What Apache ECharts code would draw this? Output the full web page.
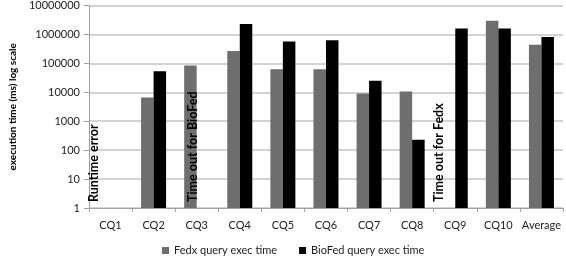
<!DOCTYPE html>
<html>
<head>
<meta charset="utf-8">
<script src="https://cdn.jsdelivr.net/npm/echarts@6/dist/echarts.min.js"></script>
<style>
  html, body { margin: 0; padding: 0; background: #fff; }
  #chart { width: 566px; height: 257px; }
</style>
</head>
<body>
<div id="chart"></div>
<script>
// categories and values (ms)
const categories = ["CQ1", "CQ2", "CQ3", "CQ4", "CQ5", "CQ6", "CQ7", "CQ8", "CQ9", "CQ10", "Average"];
// null = no bar; 1 = empty slot that carries a note
const fedxValues = [1, 6600, 85000, 265000, 62000, 62000, 9100, 10600, 1, 3000000, 440000];
const biofedValues = [null, 53000, 1, 2300000, 570000, 630000, 25000, 230, 1600000, 1600000, 820000];
const fedxNotes = { 0: "Runtime error", 8: "Time out for Fedx" };
const biofedNotes = { 2: "Time out for BioFed" };

const font = "Lato";

function buildData(values, notes) {
  return values.map((v, i) => {
    if (notes[i] === undefined) return v;
    return {
      value: v,
      label: {
        show: true,
        formatter: notes[i],
        position: "insideBottom",
        rotate: 90,
        align: "left",
        verticalAlign: "middle",
        offset: [1, -10],
        color: "#000",
        fontFamily: font,
        fontWeight: "bold",
        fontSize: 12.5,
      },
    };
  });
}

const option = {
  animation: false,
  textStyle: { fontFamily: font },
  grid: { left: 73, right: 3, top: 4, bottom: 49 },
  legend: {
    top: 240,
    left: 157,
    itemWidth: 7,
    itemHeight: 7,
    itemGap: 22,
    icon: "rect",
    textStyle: { fontSize: 11, color: "#222", fontFamily: font },
    data: ["Fedx query exec time", "BioFed query exec time"],
  },
  xAxis: {
    type: "category",
    data: categories,
    axisLine: { lineStyle: { color: "#a0a0a0" } },
    axisTick: { show: true, length: 4, lineStyle: { color: "#a0a0a0" } },
    axisLabel: { color: "#222", fontSize: 11, margin: 12, interval: 0, fontFamily: font },
  },
  yAxis: {
    type: "log",
    logBase: 10,
    min: 1,
    max: 10000000,
    name: "execution time (ms) log scale",
    nameLocation: "middle",
    nameGap: 64,
    nameTextStyle: { fontSize: 10, fontWeight: "bold", color: "#000", fontFamily: font },
    axisLine: { show: true, lineStyle: { color: "#a0a0a0" } },
    axisTick: { show: true, length: 5, lineStyle: { color: "#a0a0a0" } },
    axisLabel: {
      color: "#222",
      fontSize: 11,
      margin: 9,
      fontFamily: font,
      formatter: (v) => String(Math.round(v)),
    },
    splitLine: { lineStyle: { color: "#c4c4c4", width: 1.5 } },
  },
  series: [
    {
      name: "Fedx query exec time",
      type: "bar",
      data: buildData(fedxValues, fedxNotes),
      barWidth: 12.5,
      barGap: "0%",
      itemStyle: { color: "#6e6e6e" },
    },
    {
      name: "BioFed query exec time",
      type: "bar",
      data: buildData(biofedValues, biofedNotes),
      barWidth: 12.5,
      barGap: "0%",
      itemStyle: { color: "#000" },
    },
  ],
};

const chart = echarts.init(document.getElementById("chart"));
chart.setOption(option);
</script>
</body>
</html>
